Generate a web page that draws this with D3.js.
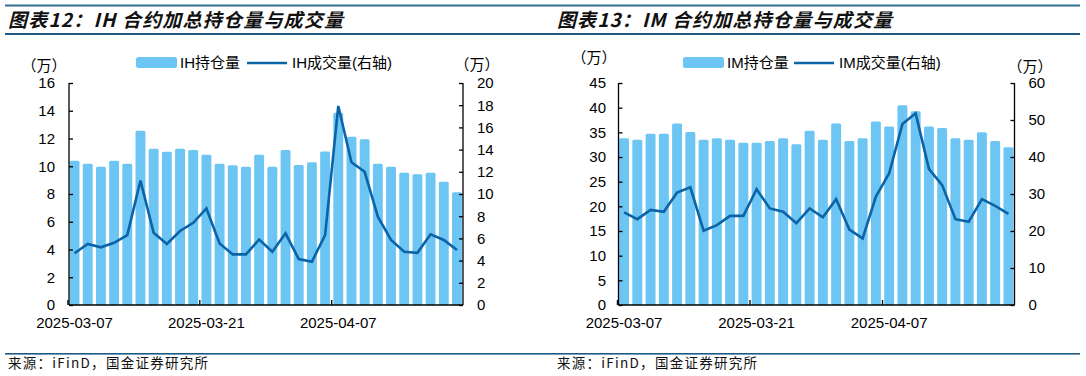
<!DOCTYPE html>
<html>
<head lang="zh">
    <meta charset="UTF-8">
    <title>IH / IM 合约加总持仓量与成交量</title>
    <script src="https://cdn.jsdelivr.net/npm/d3@7/dist/d3.min.js"></script>
    <style>
        body { margin: 0; background: #fff; }
        svg text { font-family: "Liberation Sans", Arial, "Noto Sans CJK SC", sans-serif; }
    </style>
</head>
<body>
<div id="tu"></div>
<script>
    // 日期（交易日）
    var dates = ['2025-03-07','2025-03-10','2025-03-11','2025-03-12','2025-03-13','2025-03-14',
        '2025-03-17','2025-03-18','2025-03-19','2025-03-20','2025-03-21',
        '2025-03-24','2025-03-25','2025-03-26','2025-03-27','2025-03-28',
        '2025-03-31','2025-04-01','2025-04-02','2025-04-03',
        '2025-04-07','2025-04-08','2025-04-09','2025-04-10','2025-04-11',
        '2025-04-14','2025-04-15','2025-04-16','2025-04-17','2025-04-18'];
    var tickDates = ['2025-03-07','2025-03-21','2025-04-07'];

    // IH 持仓量 / 成交量（万）
    var ihOI = [10.4,10.18,9.97,10.4,10.18,12.56,11.27,11.05,11.27,11.17,10.83,10.18,10.07,9.97,10.83,
        9.97,11.17,10.09,10.28,11.07,13.86,12.13,11.94,10.18,9.97,9.54,9.42,9.54,8.89,8.12];
    var ihVol = [4.66,5.5,5.2,5.6,6.3,11.2,6.5,5.5,6.67,7.4,8.7,5.55,4.56,4.56,5.9,
        4.8,6.46,4.14,3.9,6.3,17.93,12.86,12.0,7.96,5.86,4.8,4.7,6.37,5.86,4.95];
    var ihLeftTicks = [0,2,4,6,8,10,12,14,16];
    var ihRightTicks = [0,2,4,6,8,10,12,14,16,18,20];

    // IM 持仓量 / 成交量（万）
    var imOI = [33.8,33.5,34.7,34.7,36.8,35.07,33.5,33.8,33.5,32.9,32.9,33.25,33.8,32.6,35.3,
        33.5,36.8,33.25,33.8,37.2,36.2,40.5,39.25,36.2,35.9,33.8,33.5,35.0,33.25,31.96];
    var imVol = [25.05,23.2,25.7,25.2,30.4,31.8,20.1,21.6,24.1,24.1,31.3,26.1,25.2,22.1,26.1,
        23.7,28.6,20.4,18.0,29.3,35.6,48.9,51.8,36.8,32.4,23.2,22.5,28.6,26.8,24.6];
    var imLeftTicks = [0,5,10,15,20,25,30,35,40,45];
    var imRightTicks = [0,10,20,30,40,50,60];

    var barColor = '#6cc5f3', lineColor = '#0b63a8';

    var svg = d3.select('#tu').append('svg')
            .attr('width', 1086)
            .attr('height', 376);

    // 顶部与底部的分隔线
    svg.append('rect').attr('x',5).attr('y',4.5).attr('width',1075).attr('height',2).attr('fill','#336f94');
    svg.append('rect').attr('x',5).attr('y',33).attr('width',1075).attr('height',2).attr('fill','#1f5a85');
    svg.append('rect').attr('x',5).attr('y',353).attr('width',1075).attr('height',1.6).attr('fill','#1f5a85');

    function drawPanel(p){
        // 标题
        svg.append('text')
                .attr('x', p.x0)
                .attr('y', 27)
                .attr('textLength', 335)
                .attr('lengthAdjust', 'spacing')
                .style('font-family', '"Noto Sans CJK SC"')
                .style('font-size', '19px')
                .style('font-weight', 'bold')
                .style('font-style', 'italic')
                .attr('fill', '#111')
                .text(p.title);
        // 来源
        svg.append('text')
                .attr('x', p.x0)
                .attr('y', 368)
                .attr('textLength', 200)
                .attr('lengthAdjust', 'spacing')
                .style('font-family', '"Noto Sans CJK SC"')
                .style('font-size', '13.5px')
                .attr('fill', '#111')
                .text('来源：iFinD，国金证券研究所');

        var x = d3.scaleBand()
                .domain(dates)
                .range([p.left - 1, p.right + 0.5])
                .paddingInner(0.25)
                .paddingOuter(0.12);
        var yL = d3.scaleLinear().domain([0, p.leftMax]).range([305, 83]);
        var yR = d3.scaleLinear().domain([0, p.rightMax]).range([305, 83]);

        var g = svg.append('g');
        // 柱
        g.selectAll('rect.bar')
                .data(d3.zip(dates, p.oi))
                .enter()
                .append('rect')
                .attr('class', 'bar')
                .attr('x', function(d){ return x(d[0]); })
                .attr('y', function(d){ return yL(d[1]); })
                .attr('width', x.bandwidth())
                .attr('height', function(d){ return yL(0) - yL(d[1]); })
                .attr('rx', 1.5)
                .attr('fill', barColor);
        // 折线
        var line = d3.line()
                .x(function(d){ return x(d[0]) + x.bandwidth()/2; })
                .y(function(d){ return yR(d[1]); });
        g.append('path')
                .attr('d', line(d3.zip(dates, p.vol)))
                .attr('fill', 'none')
                .attr('stroke', lineColor)
                .attr('stroke-width', 2.6)
                .attr('stroke-linejoin', 'miter');

        // 左轴
        var gl = svg.append('g').attr('transform', 'translate(' + p.left + ',0)');
        gl.call(d3.axisRight(yL).tickValues(p.leftTicks).tickSize(4).tickFormat(d3.format('d')));
        gl.selectAll('text').remove();
        gl.selectAll('.domain').attr('d', 'M0,83V305');
        gl.selectAll('line, path').attr('stroke', '#000').attr('stroke-width', 1.3);
        svg.append('g').selectAll('text')
                .data(p.leftTicks).enter().append('text')
                .attr('x', p.leftLabelX)
                .attr('y', function(d){ return yL(d); })
                .attr('dy', '0.36em')
                .attr('text-anchor', 'end')
                .style('font-size', '15px')
                .text(function(d){ return d; });

        // 右轴
        var gr = svg.append('g').attr('transform', 'translate(' + p.right + ',0)');
        gr.call(d3.axisLeft(yR).tickValues(p.rightTicks).tickSize(4));
        gr.selectAll('text').remove();
        gr.selectAll('.domain').attr('d', 'M0,83V305');
        gr.selectAll('line, path').attr('stroke', '#000').attr('stroke-width', 1.3);
        svg.append('g').selectAll('text')
                .data(p.rightTicks).enter().append('text')
                .attr('x', p.right + 14)
                .attr('y', function(d){ return yR(d); })
                .attr('dy', '0.36em')
                .style('font-size', '15px')
                .text(function(d){ return d; });

        // X 轴
        var gx = svg.append('g');
        gx.append('line')
                .attr('x1', p.left).attr('x2', p.right)
                .attr('y1', 305).attr('y2', 305)
                .attr('stroke', '#000').attr('stroke-width', 1.3);
        gx.selectAll('line.tk')
                .data(tickDates).enter().append('line')
                .attr('class', 'tk')
                .attr('x1', function(d){ return x(d) - x.step()*x.paddingInner()/2; })
                .attr('x2', function(d){ return x(d) - x.step()*x.paddingInner()/2; })
                .attr('y1', 305).attr('y2', 300)
                .attr('stroke', '#000').attr('stroke-width', 1.3);
        gx.selectAll('text')
                .data(tickDates).enter().append('text')
                .attr('x', function(d){ return x(d) + x.bandwidth()/2; })
                .attr('y', 328)
                .attr('text-anchor', 'middle')
                .style('font-size', '15px')
                .text(function(d){ return d; });

        // 单位
        [p.unitL, p.unitR].forEach(function(u){
            svg.append('text').attr('x', u[0]).attr('y', u[1])
                    .attr('dy', '0.36em')
                    .attr('text-anchor', 'middle')
                    .style('font-family', '"Noto Sans CJK SC"')
                    .style('font-size', '15px')
                    .text('（万）');
        });

        // 图例
        svg.append('rect')
                .attr('x', p.legX).attr('y', 57)
                .attr('width', 41).attr('height', 11)
                .attr('rx', 2.5)
                .attr('fill', barColor);
        svg.append('text')
                .attr('x', p.legX + 44).attr('y', 63).attr('dy', '0.36em')
                .style('font-size', '15px')
                .text(p.name + '持仓量');
        svg.append('line')
                .attr('x1', p.legX + 111).attr('x2', p.legX + 151)
                .attr('y1', 63).attr('y2', 63)
                .attr('stroke', lineColor).attr('stroke-width', 2.6);
        svg.append('text')
                .attr('x', p.legX + 156).attr('y', 63).attr('dy', '0.36em')
                .style('font-size', '15px')
                .text(p.name + '成交量(右轴)');
    }

    drawPanel({
        x0: 8, title: '图表12：IH 合约加总持仓量与成交量', name: 'IH',
        left: 69, right: 463, leftLabelX: 55,
        leftMax: 16, rightMax: 20, leftTicks: ihLeftTicks, rightTicks: ihRightTicks,
        oi: ihOI, vol: ihVol,
        unitL: [44, 66], unitR: [477, 65], legX: 136
    });
    drawPanel({
        x0: 557, title: '图表13：IM 合约加总持仓量与成交量', name: 'IM',
        left: 618.5, right: 1014.5, leftLabelX: 606,
        leftMax: 45, rightMax: 60, leftTicks: imLeftTicks, rightTicks: imRightTicks,
        oi: imOI, vol: imVol,
        unitL: [594, 58], unitR: [1030, 67], legX: 683
    });
</script>
</body>
</html>
